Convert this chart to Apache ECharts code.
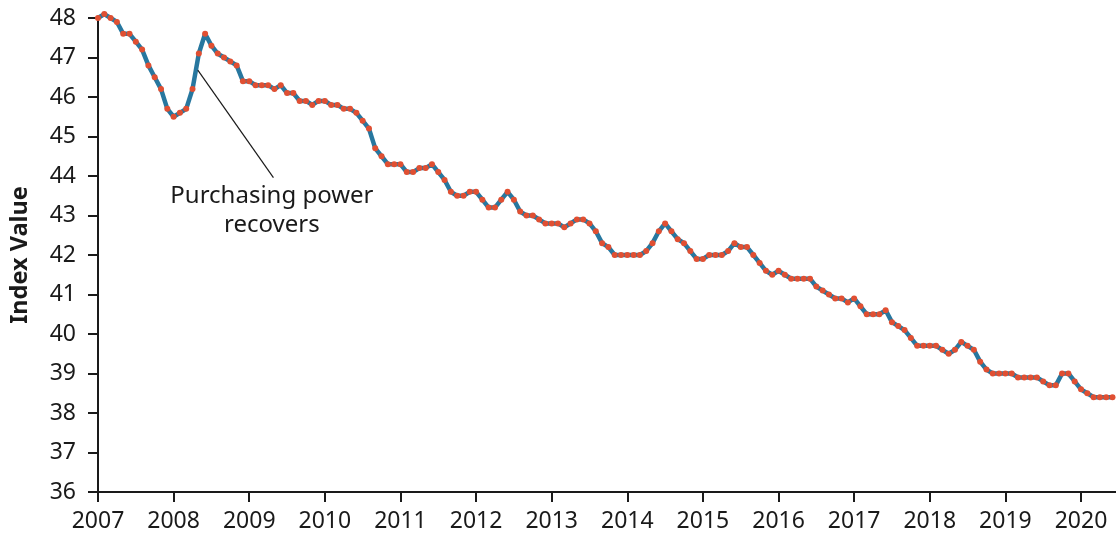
<!DOCTYPE html>
<html>
<head>
<meta charset="utf-8">
<script src="https://cdn.jsdelivr.net/npm/echarts@6/dist/echarts.min.js"></script>
<style>
  html, body { margin: 0; padding: 0; background: #fff; }
  #chart { width: 1116px; height: 535px; }
</style>
</head>
<body>
<div id="chart"></div>
<script>
// monthly index values, Jan..Dec
const Y2007 = [48.0, 48.1, 48.0, 47.9, 47.6, 47.6, 47.4, 47.2, 46.8, 46.5, 46.2, 45.7];
const Y2008 = [45.5, 45.6, 45.7, 46.2, 47.1, 47.6, 47.3, 47.1, 47.0, 46.9, 46.8, 46.4];
const Y2009 = [46.4, 46.3, 46.3, 46.3, 46.2, 46.3, 46.1, 46.1, 45.9, 45.9, 45.8, 45.9];
const Y2010 = [45.9, 45.8, 45.8, 45.7, 45.7, 45.6, 45.4, 45.2, 44.7, 44.5, 44.3, 44.3];
const Y2011 = [44.3, 44.1, 44.1, 44.2, 44.2, 44.3, 44.1, 43.9, 43.6, 43.5, 43.5, 43.6];
const Y2012 = [43.6, 43.4, 43.2, 43.2, 43.4, 43.6, 43.4, 43.1, 43.0, 43.0, 42.9, 42.8];
const Y2013 = [42.8, 42.8, 42.7, 42.8, 42.9, 42.9, 42.8, 42.6, 42.3, 42.2, 42.0, 42.0];
const Y2014 = [42.0, 42.0, 42.0, 42.1, 42.3, 42.6, 42.8, 42.6, 42.4, 42.3, 42.1, 41.9];
const Y2015 = [41.9, 42.0, 42.0, 42.0, 42.1, 42.3, 42.2, 42.2, 42.0, 41.8, 41.6, 41.5];
const Y2016 = [41.6, 41.5, 41.4, 41.4, 41.4, 41.4, 41.2, 41.1, 41.0, 40.9, 40.9, 40.8];
const Y2017 = [40.9, 40.7, 40.5, 40.5, 40.5, 40.6, 40.3, 40.2, 40.1, 39.9, 39.7, 39.7];
const Y2018 = [39.7, 39.7, 39.6, 39.5, 39.6, 39.8, 39.7, 39.6, 39.3, 39.1, 39.0, 39.0];
const Y2019 = [39.0, 39.0, 38.9, 38.9, 38.9, 38.9, 38.8, 38.7, 38.7, 39.0, 39.0, 38.8];
const Y2020 = [38.6, 38.5, 38.4, 38.4, 38.4, 38.4];

const YEAR_TICKS = [2007, 2008, 2009, 2010, 2011, 2012, 2013, 2014, 2015, 2016, 2017, 2018, 2019, 2020];
const X_END = 2020.463;

// annotation: leader line start/end and text anchor, in data units
const NOTE_TEXT = 'Purchasing power\nrecovers';
const NOTE_FROM = [2008.32, 46.68];
const NOTE_TO = [2009.32, 43.96];
const NOTE_AT = [2009.3, 43.12];

const INK = '#1a1a1a';
const LINE = '#27779f';
const DOT = '#e04f32';
const FONT = '"Noto Sans", "Open Sans", sans-serif';

const byYear = [Y2007, Y2008, Y2009, Y2010, Y2011, Y2012, Y2013, Y2014, Y2015, Y2016, Y2017, Y2018, Y2019, Y2020];
const points = [];
byYear.forEach((vals, i) => {
  vals.forEach((v, m) => points.push([YEAR_TICKS[i] + m / 12, v]));
});

const chart = echarts.init(document.getElementById('chart'), null, { renderer: 'canvas' });

const axisCommon = {
  axisLine: { show: true, onZero: false, lineStyle: { color: INK, width: 2 } },
  axisTick: { show: true, inside: false, length: 10, lineStyle: { color: INK, width: 2 } },
  splitLine: { show: false },
};

chart.setOption({
  animation: false,
  backgroundColor: '#fff',
  textStyle: { fontFamily: FONT },
  grid: { left: 97, right: 0, top: 18, bottom: 43, containLabel: false },
  xAxis: {
    type: 'value',
    min: 2007,
    max: X_END,
    interval: 1,
    ...axisCommon,
    axisTick: { ...axisCommon.axisTick, customValues: YEAR_TICKS },
    axisLabel: {
      customValues: YEAR_TICKS,
      color: INK, fontSize: 23, fontFamily: FONT, margin: 18,
      formatter: v => String(v),
    },
  },
  yAxis: {
    type: 'value',
    min: 36,
    max: 48,
    interval: 1,
    ...axisCommon,
    axisLabel: { color: INK, fontSize: 23, fontFamily: FONT, margin: 22 },
    name: 'Index Value',
    nameLocation: 'middle',
    nameGap: 66,
    nameTextStyle: { color: INK, fontSize: 23.5, fontWeight: 'bold', fontFamily: FONT },
  },
  series: [{
    type: 'line',
    data: points,
    clip: false,
    symbol: 'circle',
    symbolSize: 6,
    showSymbol: true,
    showAllSymbol: true,
    itemStyle: { color: DOT },
    lineStyle: { color: LINE, width: 4.5, join: 'round', cap: 'round' },
    emphasis: { disabled: true },
    markLine: {
      silent: true,
      symbol: 'none',
      label: { show: false },
      lineStyle: { color: INK, width: 1.2, type: 'solid' },
      data: [[{ coord: NOTE_FROM }, { coord: NOTE_TO }]],
    },
    markPoint: {
      silent: true,
      symbol: 'circle',
      symbolSize: 0,
      data: [{ coord: NOTE_AT }],
      label: {
        show: true,
        position: 'inside',
        formatter: NOTE_TEXT,
        color: INK,
        fontSize: 24,
        lineHeight: 29,
        align: 'center',
        fontFamily: FONT,
      },
    },
  }],
});
</script>
</body>
</html>
